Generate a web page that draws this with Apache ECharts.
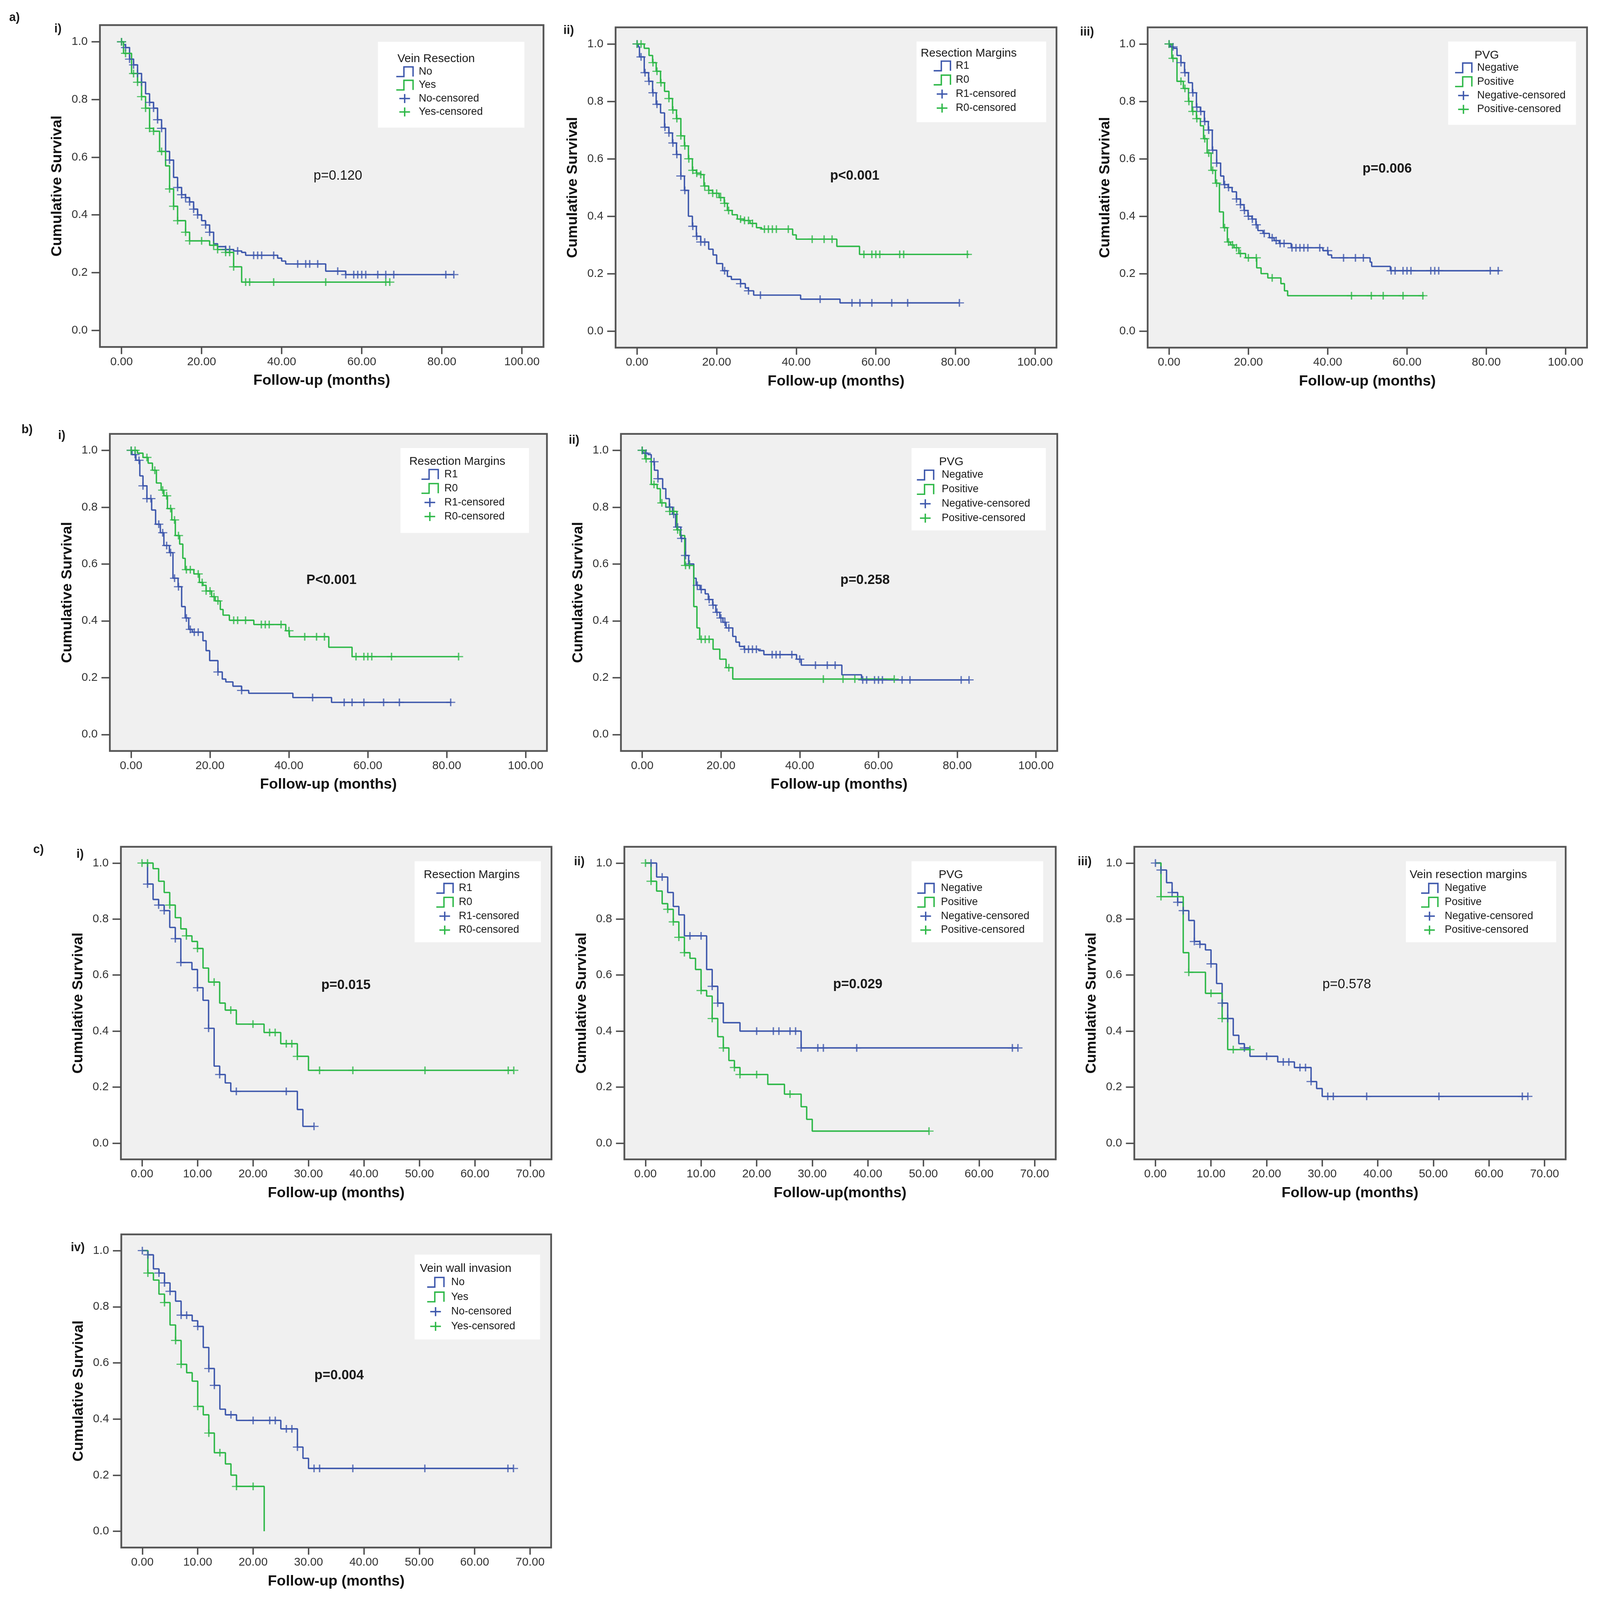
<!DOCTYPE html>
<html>
<head>
<meta charset="utf-8">
<title>Kaplan-Meier survival curves</title>
<script src="https://cdn.jsdelivr.net/npm/echarts@6.0.0/dist/echarts.min.js"></script>
<style>
  html, body { margin: 0; padding: 0; background: #fff; overflow: hidden; }
  #chart { width: 4195px; height: 4975px; }
</style>
</head>
<body>
<div id="chart"></div>
<script>
// ---- data: [month, cumulative survival] steps, censor months ----

// a) i) Vein Resection
var aiNoSteps = [[0,1],[0.5,0.99],[1,0.98],[2,0.94],[3,0.92],[4,0.89],[5,0.86],[6,0.82],[7,0.79],[8,0.77],[9,0.73],[10,0.70],[11,0.62],[12,0.59],[13,0.53],[14,0.495],[15,0.47],[16,0.46],[17,0.445],[18,0.42],[19,0.40],[20,0.38],[21,0.365],[22,0.34],[23,0.30],[24,0.29],[26,0.28],[28,0.275],[30,0.27],[31,0.26],[39,0.25],[40,0.24],[41,0.23],[51,0.205],[56,0.193],[83,0.193]];
var aiNoCens = [0,1,2,3,4,5,7,8,9,10,12,14,15,16,17,18,19,21,22,26,27,29,33,34,35,38,44,46,47,49,54,56,58,59,60,61,64,66,68,81,83];
var aiYesSteps = [[0,1],[0.5,0.96],[2.5,0.89],[4,0.86],[5,0.81],[6,0.77],[7,0.70],[8,0.69],[9.5,0.62],[11,0.57],[12,0.49],[13,0.43],[14,0.38],[16,0.34],[17,0.31],[22,0.295],[24,0.28],[26,0.27],[28,0.22],[30,0.167],[67,0.167]];
var aiYesCens = [0,1,3,4,5,6,7,8,10,12,13,14,16,17,20,23,24,26,27,28,31,32,38,51,66,67];

// a) ii) Resection Margins
var aiiR1Steps = [[0,1],[0.3,0.99],[0.6,0.955],[1.8,0.90],[2.9,0.87],[3.9,0.83],[4.8,0.79],[5.9,0.76],[6.9,0.71],[8,0.69],[8.9,0.655],[9.9,0.615],[11,0.54],[11.9,0.49],[12.9,0.40],[13.9,0.365],[14.9,0.33],[16,0.31],[18,0.285],[19.1,0.265],[20,0.235],[21.5,0.21],[22.7,0.19],[23.7,0.18],[26,0.165],[27.2,0.15],[28,0.14],[29.3,0.125],[41.1,0.111],[51,0.098],[81,0.098]];
var aiiR1Cens = [0,1,2,3,4,5,7,8,9,10,11,12,14,15,16,17,22,26,28,31,46,54,56,59,64,68,81];
var aiiR0Steps = [[0,1],[1.8,0.985],[3,0.96],[3.9,0.935],[4.8,0.905],[5.9,0.865],[6.9,0.835],[8,0.81],[8.9,0.77],[9.9,0.74],[11,0.68],[11.9,0.645],[12.9,0.60],[13.9,0.56],[14.9,0.55],[16,0.545],[16.8,0.505],[18,0.49],[19,0.48],[20.6,0.465],[21.9,0.445],[22.7,0.42],[23.9,0.405],[25.2,0.39],[26.8,0.385],[28.4,0.375],[30,0.36],[31.3,0.355],[39.1,0.335],[40,0.32],[50.2,0.295],[55.9,0.267],[83.4,0.267]];
var aiiR0Cens = [0,1,4,5,6,8,9,10,11,12,13,14,15,16,17,18,19,20,21,22,23,26,27,28,29,32,33,34,35,38,44,47,49,57,59,60,61,66,67,83];

// a) iii) PVG
var aiiiNegSteps = [[0,1],[0.3,0.99],[1.1,0.985],[2,0.96],[3,0.935],[3.9,0.90],[4.9,0.865],[5.9,0.83],[6.9,0.78],[7.9,0.765],[8.9,0.73],[9.9,0.70],[10.9,0.63],[12,0.585],[13,0.54],[13.8,0.51],[14.9,0.50],[15.9,0.485],[17,0.46],[18,0.44],[18.9,0.42],[19.9,0.40],[20.9,0.39],[21.9,0.37],[22.4,0.35],[23.7,0.34],[25.3,0.325],[26.5,0.315],[27.8,0.305],[30.8,0.29],[38.8,0.28],[40.1,0.265],[41,0.255],[50.7,0.24],[51.1,0.225],[55.8,0.21],[83.4,0.21]];
var aiiiNegCens = [0,1,3,4,6,7,8,9,10,11,12,14,15,17,18,19,20,21,22,24,26,27,28,29,31,32,33,34,35,38,40,44,47,49,56,57,59,60,61,66,67,68,81,83];
var aiiiPosSteps = [[0,1],[0.7,0.95],[2,0.87],[3.6,0.845],[4.9,0.80],[5.8,0.765],[6.9,0.74],[7.9,0.715],[8.7,0.67],[9.6,0.62],[10.6,0.56],[11.7,0.515],[12.7,0.415],[13.7,0.36],[14.7,0.31],[15.5,0.30],[16.4,0.29],[17.6,0.27],[19.3,0.255],[22.1,0.22],[23.2,0.20],[24.9,0.185],[28.2,0.165],[29.1,0.14],[29.9,0.123],[64.3,0.123]];
var aiiiPosCens = [0,1,3,4,5,6,7,9,10,11,12,14,15,16,17,18,20,22,26,46,51,54,59,64];

// b) i) Resection Margins
var biR1Steps = [[0,1],[0.2,0.985],[1.2,0.965],[2.2,0.91],[3,0.875],[4,0.83],[5.2,0.79],[6.2,0.74],[7.4,0.71],[8.3,0.665],[9.7,0.64],[10.6,0.55],[11.9,0.52],[12.8,0.45],[13.7,0.41],[14.6,0.37],[15.5,0.36],[18.2,0.33],[19,0.295],[19.9,0.26],[22,0.22],[23.1,0.195],[24,0.185],[25.8,0.17],[28,0.155],[29.8,0.145],[41,0.13],[50.8,0.113],[81.2,0.113]];
var biR1Cens = [0,1,2,3,4,5,7,8,9,10,11,12,14,15,16,17,22,28,46,54,56,59,64,68,81];
var biR0Steps = [[0,1],[1.6,0.99],[3,0.975],[4.3,0.955],[5.4,0.93],[6.4,0.885],[7.6,0.86],[8.3,0.84],[9.2,0.795],[10.3,0.755],[11.2,0.70],[12.3,0.67],[13.1,0.62],[13.7,0.58],[15.9,0.565],[17.3,0.535],[18.2,0.525],[19,0.505],[20.4,0.485],[21.3,0.47],[22.6,0.44],[23.3,0.42],[24.9,0.402],[31.1,0.387],[39.2,0.365],[40.1,0.344],[50.1,0.307],[56,0.274],[83,0.274]];
var biR0Cens = [0,1,4,6,8,9,10,11,12,14,15,17,18,19,20,21,22,26,27,29,33,34,35,38,40,44,47,49,57,59,60,61,66,83];

// b) ii) PVG
var biiNegSteps = [[0,1],[0.2,0.99],[1.5,0.985],[2.3,0.96],[3.1,0.93],[4,0.90],[5.2,0.865],[6,0.83],[6.9,0.80],[7.7,0.775],[8.5,0.73],[9.8,0.69],[11,0.63],[11.8,0.60],[13.1,0.55],[13.7,0.525],[14.7,0.51],[16,0.495],[16.8,0.475],[17.9,0.455],[18.7,0.43],[19.7,0.41],[20.5,0.395],[21.3,0.375],[23,0.345],[23.8,0.325],[24.7,0.31],[25.9,0.30],[29.6,0.295],[30.9,0.281],[39.2,0.265],[40.4,0.244],[50.7,0.21],[55.7,0.192],[83,0.192]];
var biiNegCens = [0,1,3,4,7,8,9,10,11,12,14,15,17,18,19,20,21,22,26,27,28,29,33,34,35,38,40,44,47,49,56,57,59,60,61,66,68,81,83];
var biiPosSteps = [[0,1],[0.7,0.97],[2.3,0.88],[3.8,0.865],[4.6,0.815],[6,0.80],[7,0.785],[8.8,0.72],[9.6,0.70],[10.8,0.595],[13.1,0.45],[13.9,0.375],[14.6,0.335],[18,0.30],[19.7,0.265],[21.3,0.235],[23,0.195],[64,0.195]];
var biiPosCens = [0,1,3,5,7,8,9,11,12,15,16,17,22,46,51,54,64];

// c) i) Resection Margins
var ciR1Steps = [[0,1],[1,0.925],[2,0.87],[3,0.85],[4,0.83],[5,0.77],[6,0.73],[7,0.645],[9,0.62],[10,0.555],[11,0.51],[12,0.41],[13,0.275],[14,0.245],[15,0.215],[16,0.185],[28,0.12],[29,0.06],[31,0.06]];
var ciR1Cens = [1,3,4,6,7,10,12,14,17,26,31];
var ciR0Steps = [[0,1],[2,0.98],[3,0.935],[4,0.895],[5,0.85],[6,0.805],[7,0.765],[8,0.74],[9,0.72],[10,0.695],[11,0.625],[12,0.575],[14,0.50],[15,0.475],[17,0.425],[22,0.395],[25,0.355],[28,0.31],[30,0.26],[67,0.26]];
var ciR0Cens = [0,1,5,8,10,13,16,20,23,24,26,27,28,32,38,51,66,67];

// c) ii) PVG
var ciiNegSteps = [[0,1],[2,0.95],[4,0.895],[5,0.845],[6,0.815],[7,0.74],[11,0.62],[12,0.56],[13,0.50],[14,0.43],[17,0.40],[28,0.34],[67,0.34]];
var ciiNegCens = [1,3,8,10,12,13,20,23,24,26,27,28,31,32,38,66,67];
var ciiPosSteps = [[0,1],[1,0.935],[2,0.90],[3,0.855],[4,0.835],[5,0.79],[6,0.735],[7,0.68],[8,0.66],[9,0.62],[10,0.545],[11,0.525],[12,0.445],[13,0.38],[14,0.34],[15,0.295],[16,0.27],[17,0.245],[22,0.21],[25,0.175],[28,0.13],[29,0.085],[30,0.043],[51,0.043]];
var ciiPosCens = [0,1,4,5,6,7,10,12,14,16,17,20,26,51];

// c) iii) Vein resection margins
var ciiiNegSteps = [[0,1],[1,0.975],[2,0.93],[3,0.895],[4,0.86],[5,0.83],[6,0.795],[7,0.72],[8,0.71],[9,0.69],[10,0.64],[11,0.57],[12,0.50],[13,0.445],[14,0.385],[15,0.355],[16,0.34],[17,0.31],[22,0.29],[25,0.27],[28,0.22],[29,0.195],[30,0.167],[67,0.167]];
var ciiiNegCens = [0,1,3,4,5,7,8,10,12,13,16,20,23,24,26,27,28,31,32,38,51,66,67];
var ciiiPosSteps = [[0,1],[1,0.88],[5,0.68],[6,0.61],[9,0.535],[12,0.445],[13,0.334],[17,0.334]];
var ciiiPosCens = [1,6,10,12,14,17];

// c) iv) Vein wall invasion
var civNoSteps = [[0,1],[1,0.985],[2,0.935],[3,0.92],[4,0.885],[5,0.855],[6,0.82],[7,0.77],[9,0.75],[10,0.73],[11,0.655],[12,0.58],[13,0.52],[14,0.435],[15,0.415],[17,0.395],[25,0.365],[28,0.30],[29,0.26],[30,0.224],[67,0.224]];
var civNoCens = [0,1,3,4,5,7,8,10,12,13,16,20,23,24,26,27,28,31,32,38,51,66,67];
var civYesSteps = [[0,1],[1,0.92],[2,0.895],[3,0.845],[4,0.815],[5,0.735],[6,0.68],[7,0.595],[8,0.565],[9,0.535],[10,0.445],[11,0.415],[12,0.35],[13,0.28],[15,0.24],[16,0.20],[17,0.16],[22,0]];
var civYesCens = [1,4,6,7,10,12,14,17,20];

// tick labels and legend texts
var yTicks = [0, 0.2, 0.4, 0.6, 0.8, 1.0];
var xTicks100 = [0, 20, 40, 60, 80, 100];
var xTicks70 = [0, 10, 20, 30, 40, 50, 60, 70];
var yesNoLabels = ['No', 'Yes', 'No-censored', 'Yes-censored'];
var marginLabels = ['R1', 'R0', 'R1-censored', 'R0-censored'];
var pvgLabels = ['Negative', 'Positive', 'Negative-censored', 'Positive-censored'];

// ---- styling / layout (pixel values for a 4195 x 4975 page) ----
var BLUE = '#3E58AC', GREEN = '#2EB848';
var FONT = '"Liberation Sans", Arial, Helvetica, sans-serif';
var PLUS = 'path://M8.5,0H11.5V8.5H20V11.5H11.5V20H8.5V11.5H0V8.5H8.5Z';
var W = 4195, H = 4975;

// fit the page into the window if the window turns out smaller than asked
var SX = Math.min(1, (window.innerWidth || W) / W);
var SY = Math.min(1, (window.innerHeight || H) / H);
if (!(SX > 0)) SX = 1;
if (!(SY > 0)) SY = 1;
var SM = (SX + SY) / 2;
function fx(v) { return v * SX; }
function fy(v) { return v * SY; }
function fs(v) { return v * SM; }

var panels = [
  { grid: [262, 78, 1163, 1001], xt: xTicks100, xr: [-5.4, 105.4], xName: 'Follow-up (months)',
    curves: [[aiNoSteps, aiNoCens], [aiYesSteps, aiYesCens]],
    lgTitle: 'Vein Resection', lgLabels: yesNoLabels,
    lg: { box: [991, 130, 384, 267], title: [1042, 183], iconX: 1039, textX: 1098, y0: 223, step: 41.7 },
    p: 'p=0.120', pBold: false, pPos: [886, 547], sub: 'i)', subPos: [152, 90] },
  { grid: [1614, 85, 1156, 996], xt: xTicks100, xr: [-5.4, 105.4], xName: 'Follow-up (months)',
    curves: [[aiiR1Steps, aiiR1Cens], [aiiR0Steps, aiiR0Cens]],
    lgTitle: 'Resection Margins', lgLabels: marginLabels,
    lg: { box: [2403, 129, 340, 251], title: [2414, 166], iconX: 2448, textX: 2506, y0: 205, step: 43.7 },
    p: 'p<0.001', pBold: true, pPos: [2241, 547], sub: 'ii)', subPos: [1491, 95] },
  { grid: [3009, 85, 1152, 996], xt: xTicks100, xr: [-5.4, 105.4], xName: 'Follow-up (months)',
    curves: [[aiiiNegSteps, aiiiNegCens], [aiiiPosSteps, aiiiPosCens]],
    lgTitle: 'PVG', lgLabels: pvgLabels,
    lg: { box: [3797, 129, 335, 259], title: [3866, 172], iconX: 3815, textX: 3873, y0: 211, step: 43 },
    p: 'p=0.006', pBold: true, pPos: [3637, 525], sub: 'iii)', subPos: [2850, 100] },
  { grid: [288, 1349, 1146, 986], xt: xTicks100, xr: [-5.4, 105.4], xName: 'Follow-up (months)',
    curves: [[biR1Steps, biR1Cens], [biR0Steps, biR0Cens]],
    lgTitle: 'Resection Margins', lgLabels: marginLabels,
    lg: { box: [1050, 1393, 337, 264], title: [1073, 1435], iconX: 1105, textX: 1165, y0: 1475, step: 43.7 },
    p: 'P<0.001', pBold: true, pPos: [869, 1804], sub: 'i)', subPos: [162, 1355] },
  { grid: [1628, 1349, 1144, 986], xt: xTicks100, xr: [-5.4, 105.4], xName: 'Follow-up (months)',
    curves: [[biiNegSteps, biiNegCens], [biiPosSteps, biiPosCens]],
    lgTitle: 'PVG', lgLabels: pvgLabels,
    lg: { box: [2390, 1393, 352, 256], title: [2462, 1437], iconX: 2404, textX: 2469, y0: 1477, step: 44.7 },
    p: 'p=0.258', pBold: true, pPos: [2268, 1804], sub: 'ii)', subPos: [1505, 1370] },
  { grid: [317, 2633, 1129, 972], xt: xTicks70, xr: [-3.8, 73.8], xName: 'Follow-up (months)',
    curves: [[ciR1Steps, ciR1Cens], [ciR0Steps, ciR0Cens]],
    lgTitle: 'Resection Margins', lgLabels: marginLabels,
    lg: { box: [1087, 2678, 331, 252], title: [1111, 2721], iconX: 1144, textX: 1203, y0: 2762, step: 43.3 },
    p: 'p=0.015', pBold: true, pPos: [907, 3064], sub: 'i)', subPos: [210, 2657] },
  { grid: [1637, 2633, 1131, 972], xt: xTicks70, xr: [-3.8, 73.8], xName: 'Follow-up(months)',
    curves: [[ciiNegSteps, ciiNegCens], [ciiPosSteps, ciiPosCens]],
    lgTitle: 'PVG', lgLabels: pvgLabels,
    lg: { box: [2390, 2678, 345, 252], title: [2461, 2720], iconX: 2405, textX: 2467, y0: 2762, step: 43.3 },
    p: 'p=0.029', pBold: true, pPos: [2249, 3062], sub: 'ii)', subPos: [1519, 2680] },
  { grid: [2974, 2633, 1131, 972], xt: xTicks70, xr: [-3.8, 73.8], xName: 'Follow-up (months)',
    curves: [[ciiiNegSteps, ciiiNegCens], [ciiiPosSteps, ciiiPosCens]],
    lgTitle: 'Vein resection margins', lgLabels: pvgLabels,
    lg: { box: [3686, 2678, 394, 252], title: [3696, 2720], iconX: 3726, textX: 3788, y0: 2762, step: 43.3 },
    p: 'p=0.578', pBold: false, pPos: [3531, 3062], sub: 'iii)', subPos: [2844, 2680] },
  { grid: [318, 3838, 1127, 974], xt: xTicks70, xr: [-3.8, 73.8], xName: 'Follow-up (months)',
    curves: [[civNoSteps, civNoCens], [civYesSteps, civYesCens]],
    lgTitle: 'Vein wall invasion', lgLabels: yesNoLabels,
    lg: { box: [1087, 3901, 329, 264], title: [1101, 3945], iconX: 1120, textX: 1183, y0: 3987, step: 45.7 },
    p: 'p=0.004', pBold: true, pPos: [889, 4277], sub: 'iv)', subPos: [204, 3880] }
];

var rowLabels = [['a)', 38, 55], ['b)', 71, 1337], ['c)', 101, 2642]];

// survival level of a step curve at month t
function survivalAt(steps, t) {
  var s = 1;
  for (var i = 0; i < steps.length; i++) {
    if (steps[i][0] <= t + 1e-9) s = steps[i][1];
    else break;
  }
  return s;
}

function label(txt, x, y, size, bold, align) {
  return {
    type: 'text', x: fx(x), y: fy(y), z: 102,
    style: {
      text: txt, fontSize: fs(size), fontWeight: bold ? 'bold' : 'normal', fontFamily: FONT,
      fill: '#1a1a1a', align: align, textAlign: align,
      verticalAlign: 'middle', textVerticalAlign: 'middle'
    }
  };
}

function legendBox(p) {
  var lg = p.lg, els = [];
  els.push({ type: 'rect', z: 100,
    shape: { x: fx(lg.box[0]), y: fy(lg.box[1]), width: fx(lg.box[2]), height: fy(lg.box[3]) },
    style: { fill: '#ffffff' } });
  els.push(label(p.lgTitle, lg.title[0], lg.title[1], 33, false, 'left'));
  [BLUE, GREEN].forEach(function(c, k) {
    var cy = lg.y0 + k * lg.step, x = lg.iconX;
    els.push({ type: 'polyline', z: 101,
      shape: { points: [[x, cy + 15], [x + 20, cy + 15], [x + 20, cy - 15], [x + 44, cy - 15], [x + 44, cy + 15]]
        .map(function(q) { return [fx(q[0]), fy(q[1])]; }) },
      style: { stroke: c, lineWidth: 4 * SM, fill: 'none' } });
  });
  [BLUE, GREEN].forEach(function(c, k) {
    var cy = lg.y0 + (k + 2) * lg.step, cx = lg.iconX + 22;
    els.push({ type: 'line', z: 101, shape: { x1: fx(cx - 14), y1: fy(cy), x2: fx(cx + 14), y2: fy(cy) },
      style: { stroke: c, lineWidth: 4 * SM } });
    els.push({ type: 'line', z: 101, shape: { x1: fx(cx), y1: fy(cy - 14), x2: fx(cx), y2: fy(cy + 14) },
      style: { stroke: c, lineWidth: 4 * SM } });
  });
  p.lgLabels.forEach(function(s, k) {
    els.push(label(s, lg.textX, lg.y0 + k * lg.step, 30, false, 'left'));
  });
  return els;
}

var grids = [], xAxes = [], yAxes = [], series = [], graphics = [];
var nameStyle = { fontSize: fs(42), fontWeight: 'bold', fontFamily: FONT, color: '#111' };
var tickLine = { color: '#4d4d4d', width: 4 * SM };

panels.forEach(function(p, i) {
  grids.push({ left: fx(p.grid[0]), top: fy(p.grid[1]), width: fx(p.grid[2]), height: fy(p.grid[3]),
    containLabel: false, outerBoundsMode: 'none', show: true,
    backgroundColor: '#f0f0f0', borderColor: '#555555', borderWidth: 5 * SM });

  // axes sit on the frame edges (not on zero); the frame itself is the grid border
  xAxes.push({ type: 'value', gridIndex: i, position: 'bottom', min: p.xr[0], max: p.xr[1],
    name: p.xName, nameLocation: 'middle', nameGap: fy(82), nameTextStyle: nameStyle,
    axisLine: { show: false, onZero: false }, splitLine: { show: false },
    axisTick: { show: true, inside: false, length: fy(22), lineStyle: tickLine, customValues: p.xt },
    axisLabel: { customValues: p.xt, margin: fy(28), fontSize: fs(33), fontFamily: FONT, color: '#333',
      formatter: function(v) { return v.toFixed(2); } } });

  yAxes.push({ type: 'value', gridIndex: i, position: 'left', min: -0.058, max: 1.058,
    name: 'Cumulative Survival', nameLocation: 'middle', nameGap: fx(92), nameTextStyle: nameStyle,
    axisLine: { show: false, onZero: false }, splitLine: { show: false },
    axisTick: { show: true, inside: false, length: fx(22), lineStyle: tickLine, customValues: yTicks },
    axisLabel: { customValues: yTicks, margin: fx(32), fontSize: fs(33), fontFamily: FONT, color: '#333',
      formatter: function(v) { return v.toFixed(1); } } });

  p.curves.forEach(function(c, k) {
    var color = k === 0 ? BLUE : GREEN;
    series.push({ type: 'line', xAxisIndex: i, yAxisIndex: i, data: c[0], step: 'end',
      symbol: 'none', lineStyle: { color: color, width: 4 * SM }, itemStyle: { color: color }, z: 3 });
    series.push({ type: 'scatter', xAxisIndex: i, yAxisIndex: i,
      data: c[1].map(function(t) { return [t, survivalAt(c[0], t)]; }),
      symbol: PLUS, symbolSize: [fx(24), fy(24)], itemStyle: { color: color }, z: 4 });
  });

  graphics = graphics.concat(legendBox(p));
  graphics.push(label(p.p, p.pPos[0], p.pPos[1], 38, p.pBold, 'center'));
  graphics.push(label(p.sub, p.subPos[0], p.subPos[1], 34, true, 'center'));
});

rowLabels.forEach(function(r) {
  graphics.push(label(r[0], r[1], r[2], 34, true, 'center'));
});

var dom = document.getElementById('chart');
dom.style.width = fx(W) + 'px';
dom.style.height = fy(H) + 'px';

var chart = echarts.init(dom, null, { renderer: 'canvas' });
chart.setOption({
  animation: false,
  backgroundColor: '#ffffff',
  grid: grids,
  xAxis: xAxes,
  yAxis: yAxes,
  series: series,
  graphic: { elements: graphics }
});
</script>
</body>
</html>
